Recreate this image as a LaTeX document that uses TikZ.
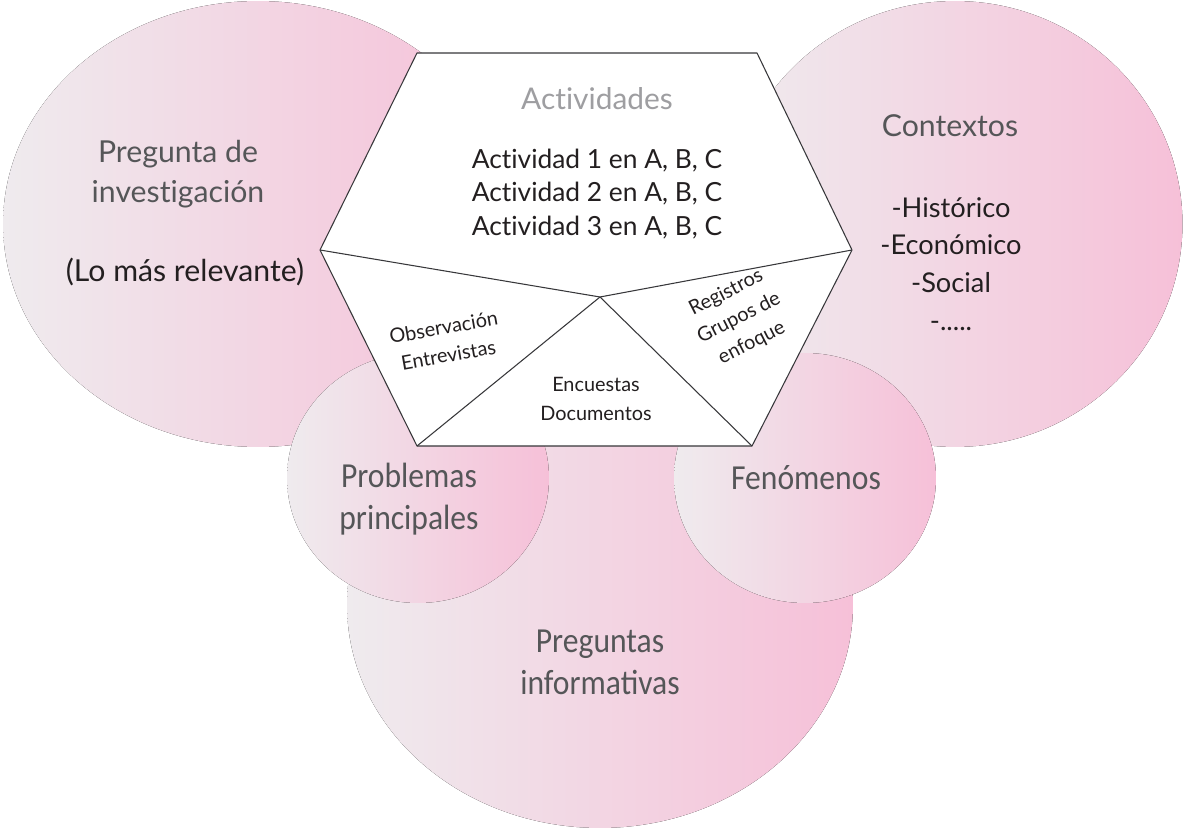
\documentclass[tikz,border=0pt]{standalone}
\usepackage{fontspec}
\setmainfont[Ligatures=NoCommon]{Lato}
\newfontfamily\narrowfont[FakeStretch=0.9]{Carlito}
\usetikzlibrary{positioning}
\definecolor{blgrey}{RGB}{239,235,238}
\definecolor{blpink}{RGB}{246,192,216}
\definecolor{bltext}{RGB}{85,86,88}
\definecolor{blhead}{RGB}{158,158,161}
\definecolor{blink}{RGB}{35,31,32}
\definecolor{bledge}{RGB}{55,55,58}
\tikzset{
  blob/.style={left color=blgrey, right color=blpink},
  hexline/.style={draw=bledge, line width=0.6pt, line join=round},
  big/.style={align=center, text=bltext, inner sep=0pt,
    font=\fontsize{17.2}{23}\selectfont},
  head/.style={align=center, text=blhead, inner sep=0pt,
    font=\fontsize{17}{19}\selectfont},
  item/.style={align=center, text=blink, inner sep=0pt,
    font=\fontsize{15}{19.3}\selectfont},
  ctx/.style={align=center, text=blink, inner sep=0pt,
    font=\fontsize{15.5}{21.5}\selectfont},
  small/.style={align=center, text=blink, inner sep=0pt,
    font=\fontsize{11.3}{16}\selectfont},
  narrow/.style={align=center, text=bltext, inner sep=0pt,
    font=\narrowfont\fontsize{20}{24}\selectfont}
}
\begin{document}
\begin{tikzpicture}[x=0.02cm, y=-0.02cm]
  \useasboundingbox (0,0) rectangle (1189,830);
  % circles, back to front
  \fill[blob] (258,224) ellipse [x radius=5.1cm, y radius=4.46cm];
  \fill[blob] (955,224) ellipse [x radius=4.55cm, y radius=4.46cm];
  \fill[blob] (600,605) ellipse [x radius=5.06cm, y radius=4.46cm];
  \fill[blob] (418,478) ellipse [x radius=2.62cm, y radius=2.5cm];
  \fill[blob] (805,478) ellipse [x radius=2.62cm, y radius=2.5cm];
  % hexagon
  \coordinate (tl) at (417,53);
  \coordinate (tr) at (757,53);
  \coordinate (r) at (852,250);
  \coordinate (br) at (752,446);
  \coordinate (bl) at (417,446);
  \coordinate (l) at (320,250);
  \coordinate (mid) at (600,297);
  \filldraw[fill=white, hexline] (tl) -- (tr) -- (r) -- (br) -- (bl) -- (l) -- cycle;
  \draw[hexline] (l) -- (mid) -- (r);
  \draw[hexline] (bl) -- (mid) -- (br);
  % labels
  \node[head] (act) at (597,99) {Actividades};
  \node[item] (acts) at (597,194) {Actividad 1 en A, B, C\\Actividad 2 en A, B, C\\Actividad 3 en A, B, C};
  \node[small, rotate=10] (obs) at (446,341) {Observación\\Entrevistas};
  \node[small] (enc) at (596,399) {Encuestas\\Documentos};
  \node[small, rotate=27] (reg) at (739,318) {Registros\\Grupos de\\enfoque};
  \node[big] (preg) at (178,174) {Pregunta de\\investigación};
  \node[big, text=blink] (rel) at (185,272) {(Lo más relevante)};
  \node[big] (ctx) at (950,126) {Contextos};
  \node[ctx] (ctxl) at (951,264) {-Histórico\\-Económico\\-Social\\-.....};
  \node[narrow] (prob) at (409,499) {Problemas\\principales};
  \node[narrow] (fen) at (806,478) {Fenómenos};
  \node[narrow] (inf) at (600,662) {Preguntas\\informativas};
\end{tikzpicture}
\end{document}
